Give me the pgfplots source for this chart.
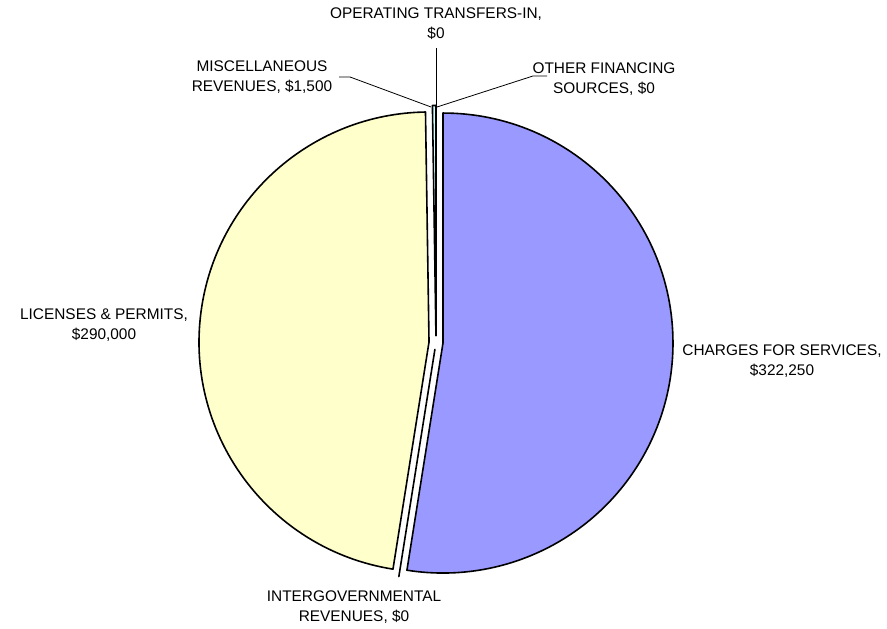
\documentclass[border=0pt]{standalone}
\usepackage{pgfplots}
\pgfplotsset{compat=1.18}
\usepackage{fontspec}
\setmainfont{Liberation Sans}
\definecolor{chg}{HTML}{9999FF}
\definecolor{lic}{HTML}{FFFFCC}
\definecolor{misc}{HTML}{CCFFFF}
\tikzset{lbl/.style={font=\fontsize{15.4bp}{20bp}\selectfont, align=center, text=black, inner sep=0pt}}
\begin{document}
\begin{tikzpicture}
\begin{axis}[x=1bp,y=1bp,xmin=0,xmax=887,ymin=0,ymax=629,hide axis,clip=false]
% values (in $), clockwise from 12 o'clock
\gdef\cum{0}
\foreach \v/\c in {322250/chg,0/white,290000/lic,1500/misc,0/white,0/white}{
  \edef\a{\fpeval{90-360*\cum/613750}}
  \edef\b{\fpeval{90-360*(\cum+\v)/613750}}
  \edef\ox{\fpeval{436+7*cosd((\a+\b)/2)}}
  \edef\oy{\fpeval{286.5+7*sind((\a+\b)/2)}}
  \edef\temp{\noexpand\filldraw[fill=\c,draw=black,line width=1.6bp,line join=round]
    (axis cs:\ox,\oy) -- ++(\a:230bp) arc[start angle=\a,end angle=\b,radius=230bp] -- cycle;}
  \temp
  \xdef\cum{\fpeval{\cum+\v}}
}
% leader lines
\draw[black, line width=0.8bp] (axis cs:436,581) -- (axis cs:436,522);
\draw[black, line width=0.8bp] (axis cs:339,552) -- (axis cs:350,552) -- (axis cs:431,522);
\draw[black, line width=0.8bp] (axis cs:547,553) -- (axis cs:533,553) -- (axis cs:437,522);
% labels
\node[lbl] at (axis cs:436,605) {OPERATING TRANSFERS-IN,\\\$0};
\node[lbl] at (axis cs:262,551.5) {MISCELLANEOUS\\REVENUES, \$1,500};
\node[lbl] at (axis cs:604,550) {OTHER FINANCING\\SOURCES, \$0};
\node[lbl] at (axis cs:104,304) {LICENSES \& PERMITS,\\\$290,000};
\node[lbl] at (axis cs:782,268) {CHARGES FOR SERVICES,\\\$322,250};
\node[lbl] at (axis cs:354,21.5) {INTERGOVERNMENTAL\\REVENUES, \$0};
\end{axis}
\pgfresetboundingbox
\path (current axis.south west) rectangle (current axis.north east);
\end{tikzpicture}
\end{document}
